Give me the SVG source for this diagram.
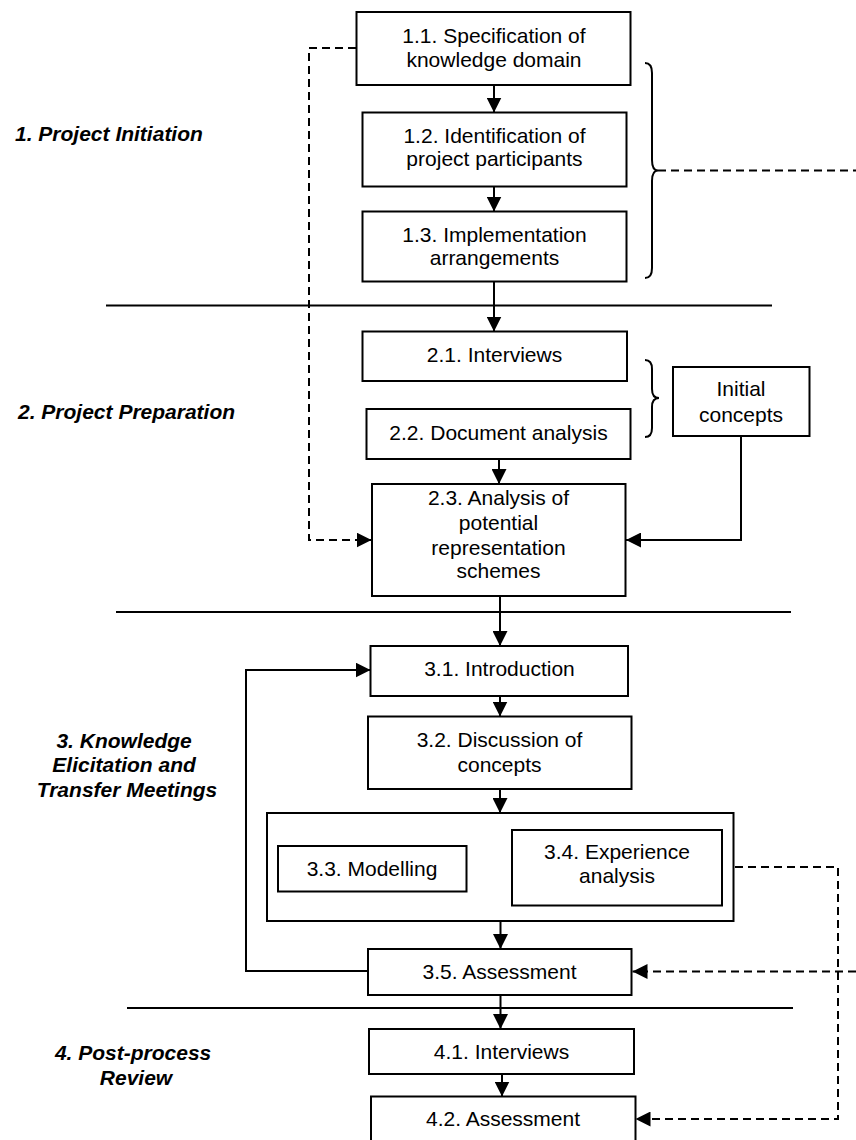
<svg xmlns="http://www.w3.org/2000/svg" width="856" height="1140" viewBox="0 0 856 1140">
  <style>
    .box { fill: #fff; stroke: #000; stroke-width: 2; }
    .t { font-family: "Liberation Sans", Arial, sans-serif; font-size: 21px; fill: #000; text-anchor: middle; }
    .phase { font-family: "Liberation Sans", Arial, sans-serif; font-size: 21px; font-weight: bold; font-style: italic; fill: #000; }
    .line { fill: none; stroke: #000; stroke-width: 2; }
    .dash { fill: none; stroke: #000; stroke-width: 2; stroke-dasharray: 8 5; }
    .brace { fill: none; stroke: #000; stroke-width: 2; }
  </style>
  <defs>
    <marker id="arrow" markerUnits="userSpaceOnUse" markerWidth="15" markerHeight="15" viewBox="0 0 15 15" refX="15" refY="7.5" orient="auto">
      <path d="M0,0 L15,7.5 L0,15 z" fill="#000"/>
    </marker>
  </defs>

  <rect width="856" height="1140" fill="#fff"/>

  <!-- phase dividers -->
  <g id="dividers" class="line">
    <line x1="106" y1="305.5" x2="772" y2="305.5"/>
    <line x1="116" y1="612" x2="791" y2="612"/>
    <line x1="127" y1="1008" x2="793" y2="1008"/>
  </g>

  <!-- phase labels -->
  <g id="phase-labels">
    <text class="phase" x="15" y="141">1. Project Initiation</text>
    <text class="phase" x="18" y="419">2. Project Preparation</text>
    <text class="phase" text-anchor="middle">
      <tspan x="127" y="748">3. Knowledge</tspan>
      <tspan x="127" y="772">Elicitation and</tspan>
      <tspan x="127" y="797">Transfer Meetings</tspan>
    </text>
    <text class="phase" text-anchor="middle">
      <tspan x="136" y="1060">4. Post-process</tspan>
      <tspan x="136" y="1085">Review</tspan>
    </text>
  </g>

  <!-- braces -->
  <g id="braces" class="brace">
    <path d="M645,63 Q652,63 652,73 V160 Q652,170.5 658,170.5 Q652,170.5 652,181 V268 Q652,278 645,278"/>
    <path d="M645,360 Q652,360 652,369 V389 Q652,398 659,398 Q652,398 652,407 V428 Q652,437 645,437"/>
  </g>

  <!-- connectors -->
  <g id="connectors">
    <line class="line" x1="494" y1="85" x2="494" y2="112.5" marker-end="url(#arrow)"/>
    <line class="line" x1="494" y1="187" x2="494" y2="211.5" marker-end="url(#arrow)"/>
    <line class="line" x1="494" y1="282" x2="494" y2="331.5" marker-end="url(#arrow)"/>
    <line class="line" x1="499" y1="459" x2="499" y2="484" marker-end="url(#arrow)"/>
    <path class="line" d="M741,436 V540 H626" marker-end="url(#arrow)"/>
    <path class="dash" d="M356,48 H309 V540 H371.5" marker-end="url(#arrow)"/>
    <path class="dash" d="M658,170.5 H856"/>
    <line class="line" x1="500" y1="596" x2="500" y2="646" marker-end="url(#arrow)"/>
    <line class="line" x1="500" y1="696" x2="500" y2="716.5" marker-end="url(#arrow)"/>
    <line class="line" x1="500" y1="789" x2="500" y2="813" marker-end="url(#arrow)"/>
    <line class="line" x1="500.5" y1="921" x2="500.5" y2="949" marker-end="url(#arrow)"/>
    <path class="line" d="M368,971 H246 V670 H370.5" marker-end="url(#arrow)"/>
    <line class="line" x1="500.5" y1="995" x2="500.5" y2="1029" marker-end="url(#arrow)"/>
    <line class="line" x1="502" y1="1074" x2="502" y2="1096.5" marker-end="url(#arrow)"/>
    <path class="dash" d="M722,867 H838 V1119 H635.5" marker-end="url(#arrow)"/>
    <path class="dash" d="M856,971.5 H632.5" marker-end="url(#arrow)"/>
  </g>

  <!-- 1. Project Initiation -->
  <g id="n1-1">
    <rect class="box" x="356.5" y="12" width="274" height="73"/>
    <text class="t"><tspan x="494" y="43">1.1. Specification of</tspan><tspan x="494" y="67">knowledge domain</tspan></text>
  </g>
  <g id="n1-2">
    <rect class="box" x="362.5" y="112.5" width="264" height="74"/>
    <text class="t"><tspan x="494.5" y="143">1.2. Identification of</tspan><tspan x="494.5" y="166">project participants</tspan></text>
  </g>
  <g id="n1-3">
    <rect class="box" x="362.5" y="211.5" width="264" height="70"/>
    <text class="t"><tspan x="494.5" y="242">1.3. Implementation</tspan><tspan x="494.5" y="265">arrangements</tspan></text>
  </g>

  <!-- 2. Project Preparation -->
  <g id="n2-1">
    <rect class="box" x="362.5" y="331.5" width="264.5" height="49.5"/>
    <text class="t" x="494.5" y="362">2.1. Interviews</text>
  </g>
  <g id="n2-2">
    <rect class="box" x="366.5" y="409" width="264" height="50"/>
    <text class="t" x="498.5" y="440">2.2. Document analysis</text>
  </g>
  <g id="initial-concepts">
    <rect class="box" x="673" y="367" width="136.5" height="69"/>
    <text class="t"><tspan x="741" y="396">Initial</tspan><tspan x="741" y="422">concepts</tspan></text>
  </g>
  <g id="n2-3">
    <rect class="box" x="372" y="484" width="253.5" height="112"/>
    <text class="t"><tspan x="498.5" y="505">2.3. Analysis of</tspan><tspan x="498.5" y="530">potential</tspan><tspan x="498.5" y="555">representation</tspan><tspan x="498.5" y="578">schemes</tspan></text>
  </g>

  <!-- 3. Knowledge Elicitation and Transfer Meetings -->
  <g id="n3-1">
    <rect class="box" x="370.5" y="646" width="257.5" height="50"/>
    <text class="t" x="499.5" y="676">3.1. Introduction</text>
  </g>
  <g id="n3-2">
    <rect class="box" x="368" y="716.5" width="263.5" height="72.5"/>
    <text class="t"><tspan x="499.5" y="747">3.2. Discussion of</tspan><tspan x="499.5" y="772">concepts</tspan></text>
  </g>
  <g id="n3-group">
    <rect class="box" x="267" y="813" width="466.5" height="108"/>
  </g>
  <g id="n3-3">
    <rect class="box" x="278" y="846" width="188.5" height="45.5"/>
    <text class="t" x="372" y="876">3.3. Modelling</text>
  </g>
  <g id="n3-4">
    <rect class="box" x="512" y="830" width="210" height="75.5"/>
    <text class="t"><tspan x="617" y="859">3.4. Experience</tspan><tspan x="617" y="883">analysis</tspan></text>
  </g>
  <g id="n3-5">
    <rect class="box" x="368" y="949" width="263.5" height="46"/>
    <text class="t" x="499.5" y="979">3.5. Assessment</text>
  </g>

  <!-- 4. Post-process Review -->
  <g id="n4-1">
    <rect class="box" x="369" y="1029" width="265" height="45"/>
    <text class="t" x="501.5" y="1059">4.1. Interviews</text>
  </g>
  <g id="n4-2">
    <rect class="box" x="371" y="1096.5" width="264.5" height="60"/>
    <text class="t" x="503" y="1126">4.2. Assessment</text>
  </g>
</svg>
